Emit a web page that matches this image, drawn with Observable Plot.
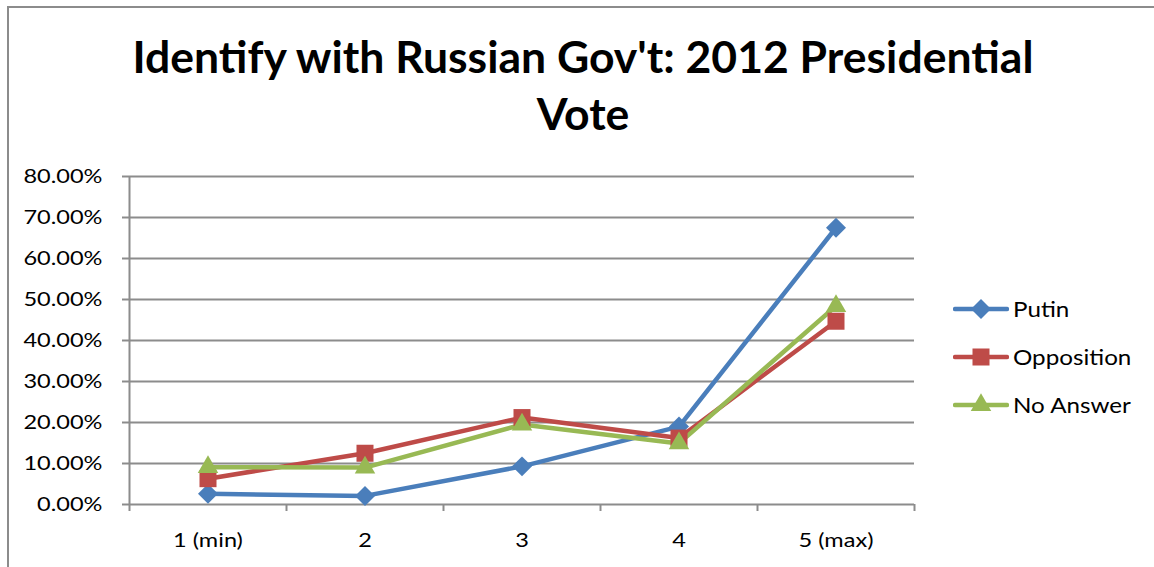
<!DOCTYPE html>
<html>
<head>
<meta charset="utf-8">
<script src="https://cdn.jsdelivr.net/npm/d3@7"></script>
<script src="https://cdn.jsdelivr.net/npm/@observablehq/plot@0.6"></script>
<style>
  html, body { margin: 0; padding: 0; background: #fff; }
  #page { position: relative; width: 1154px; height: 567px; overflow: hidden; background: #fff; font-family: Lato, "Open Sans", sans-serif; }
  #frame { position: absolute; left: 7px; top: 6px; right: -10px; bottom: -10px; border-left: 2px solid #8c8c8c; border-top: 2px solid #8c8c8c; }
  #title { position: absolute; left: 0; width: 1166px; top: 27px; text-align: center; font-weight: 700; font-size: 44.5px; line-height: 57px; color: #000; }
  #chart { position: absolute; left: 0; top: 160px; }
  #legend { position: absolute; left: 953px; top: 0; }
  .row { position: absolute; left: 0; height: 24px; display: flex; align-items: center; white-space: nowrap; font-size: 20.5px; color: #000; }
  .row svg { display: block; margin-right: 4px; }
  .row span { display: inline-block; transform: scaleX(1.18); transform-origin: left center; }
</style>
</head>
<body>
<div id="page">
  <div id="frame"></div>
  <div id="title">Identify with Russian Gov't: 2012 Presidential<br>Vote</div>
  <div id="chart"></div>
  <div id="legend"></div>
</div>
<script>
// Share of respondents at each level of identification with the government
const categories = ["1 (min)", "2", "3", "4", "5 (max)"];
const putin      = [0.026, 0.021, 0.093, 0.190, 0.675];
const opposition = [0.063, 0.125, 0.212, 0.162, 0.447];
const noAnswer   = [0.091, 0.090, 0.195, 0.149, 0.484];
const seriesNames = ["Putin", "Opposition", "No Answer"];
const yTicks = [0, 0.1, 0.2, 0.3, 0.4, 0.5, 0.6, 0.7, 0.8];

// Presentation settings for each series
const seriesColors  = ["#4A7EBB", "#BE4B48", "#98B954"];
const seriesSymbols = ["diamond2", "square", "triangle"];
const seriesRadius  = [9, 9.6, 7.6];
const d3Symbols = {diamond2: d3.symbolDiamond2, square: d3.symbolSquare, triangle: d3.symbolTriangle};

const seriesValues = [putin, opposition, noAnswer];
const rows = seriesNames.flatMap((name, s) =>
  categories.map((category, i) => ({series: name, pos: i + 1, category, value: seriesValues[s][i]}))
);

const positions = categories.map((_, i) => i + 1);
const boundaries = d3.range(categories.length + 1).map((i) => i + 0.5);
const gray = "#8c8c8c";

const chart = Plot.plot({
  width: 930,
  height: 407,
  marginLeft: 129,
  marginRight: 16,
  marginTop: 16,
  marginBottom: 63,
  style: {fontFamily: "Lato, 'Open Sans', sans-serif", fontSize: "19px", color: "#000", background: "transparent", overflow: "visible"},
  x: {type: "linear", domain: [0.5, categories.length + 0.5], axis: null},
  y: {domain: [0, 0.8], axis: null},
  color: {domain: seriesNames, range: seriesColors},
  symbol: {domain: seriesNames, range: seriesSymbols},
  marks: [
    Plot.ruleY(yTicks.slice(1), {stroke: gray, strokeWidth: 2}),
    Plot.ruleX([0.5], {y1: 0, y2: 0.8, stroke: gray, strokeWidth: 2}),
    Plot.ruleY([0], {stroke: gray, strokeWidth: 2}),
    Plot.axisY(yTicks, {label: null, tickFormat: d3.format(".2%"), tickSize: 7, tickPadding: 20, stroke: gray, strokeWidth: 2, strokeOpacity: 1, fill: "#000"}),
    Plot.axisX(boundaries, {label: null, tickSize: 7, tickFormat: () => "", stroke: gray, strokeWidth: 2, strokeOpacity: 1}),
    Plot.axisX(positions, {label: null, tickSize: 0, tickPadding: 29, tickFormat: (d) => categories[d - 1], fill: "#000"}),
    Plot.line(rows, {x: "pos", y: "value", z: "series", stroke: "series", strokeWidth: 4.5, strokeLinejoin: "round", strokeLinecap: "round"}),
    ...seriesNames.map((name, s) =>
      Plot.dot(rows.filter((d) => d.series === name), {x: "pos", y: "value", fill: "series", symbol: "series", r: seriesRadius[s], stroke: "none"})
    )
  ]
});

// Tick labels are set in a slightly wider face than the font provides
d3.select(chart).selectAll('g[aria-label$="tick label"] text').each(function () {
  const t = this.getAttribute("transform") || "";
  this.setAttribute("transform", t + " scale(1.24,1)");
});
document.getElementById("chart").append(chart);

// Legend: a line segment with the series marker, followed by its name
const legend = d3.select("#legend");
const rowCenters = [309, 357, 405];
seriesNames.forEach((name, s) => {
  const row = legend.append("div").attr("class", "row").style("top", (rowCenters[s] - 12) + "px");
  const svg = row.append("svg").attr("width", 56).attr("height", 24);
  svg.append("line").attr("x1", 2).attr("x2", 54).attr("y1", 12).attr("y2", 12)
    .attr("stroke", seriesColors[s]).attr("stroke-width", 4.5).attr("stroke-linecap", "round");
  const size = Math.PI * seriesRadius[s] * seriesRadius[s];
  svg.append("path").attr("transform", "translate(28,12)")
    .attr("d", d3.symbol(d3Symbols[seriesSymbols[s]], size)())
    .attr("fill", seriesColors[s]);
  row.append("span").text(name);
});
</script>
</body>
</html>
